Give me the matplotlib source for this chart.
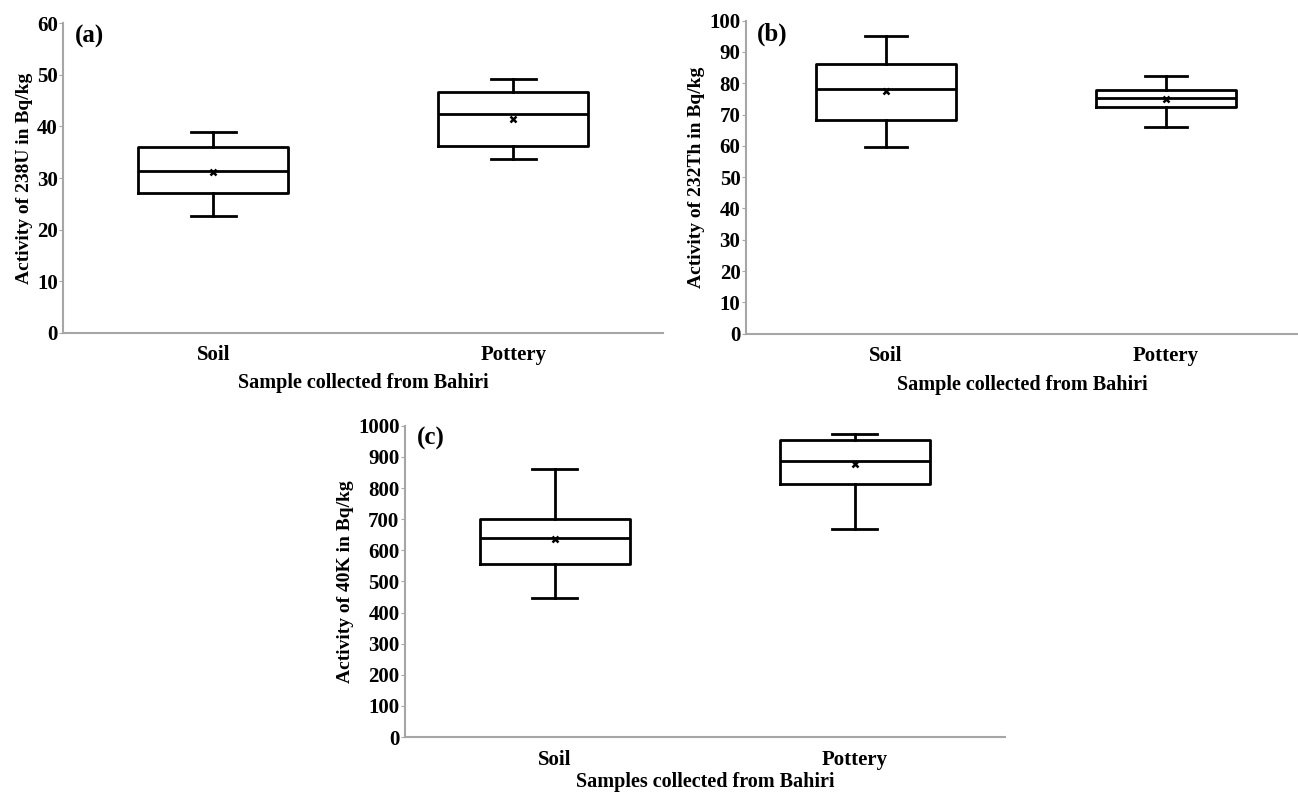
import matplotlib.pyplot as plt

plt.rcParams['font.family'] = ['Liberation Serif', 'DejaVu Serif']
plt.rcParams['font.weight'] = 'bold'

categories = ['Soil', 'Pottery']

# five-number summaries + mean
u238_low = [22.6, 33.6]
u238_q1 = [27.0, 36.2]
u238_med = [31.4, 42.5]
u238_mean = [31.2, 41.4]
u238_q3 = [36.0, 46.6]
u238_high = [38.9, 49.3]

th232_low = [59.7, 66.0]
th232_q1 = [68.2, 72.5]
th232_med = [78.2, 75.3]
th232_mean = [77.4, 75.1]
th232_q3 = [86.3, 78.0]
th232_high = [95.1, 82.3]

k40_low = [448, 667]
k40_q1 = [557, 812]
k40_med = [640, 886]
k40_mean = [637, 876]
k40_q3 = [699, 955]
k40_high = [861, 973]

GREY = '#a6a6a6'


def stats(low, q1, med, mean, q3, high):
    out = []
    for i in range(len(categories)):
        out.append(dict(whislo=low[i], q1=q1[i], med=med[i], mean=mean[i],
                        q3=q3[i], whishi=high[i], fliers=[], label=categories[i]))
    return out


def panel(ax, st, ymax, ystep, ylabel, xlabel, tag, xmax=2.0, xpad=6):
    ax.bxp(st, positions=[0.5, 1.5], widths=0.5, capwidths=0.15,
           showmeans=True, showfliers=False,
           boxprops=dict(color='black', linewidth=2),
           medianprops=dict(color='black', linewidth=2),
           whiskerprops=dict(color='black', linewidth=2),
           capprops=dict(color='black', linewidth=2),
           meanprops=dict(marker='x', markeredgecolor='black', markersize=5,
                          markeredgewidth=1.8))
    ax.set_xlim(0, xmax)
    ax.set_ylim(0, ymax)
    ax.set_yticks(range(0, ymax + 1, ystep))
    for s in ['top', 'right']:
        ax.spines[s].set_visible(False)
    for s in ['left', 'bottom']:
        ax.spines[s].set_color(GREY)
        ax.spines[s].set_linewidth(1.5)
    ax.tick_params(axis='y', length=3, color=GREY, pad=1, labelsize=15)
    ax.tick_params(axis='x', length=0, pad=9, labelsize=15)
    ax.set_ylabel(ylabel, fontsize=14, fontweight='bold', labelpad=3)
    ax.set_xlabel(xlabel, fontsize=14.5, fontweight='bold', labelpad=xpad)
    ax.text(0.02, 0.995, tag, transform=ax.transAxes, fontsize=18,
            fontweight='bold', va='top', ha='left')


fig = plt.figure(figsize=(12.98, 7.92), dpi=100)

ax_a = fig.add_axes([0.0488, 0.58, 0.4622, 0.3905])
panel(ax_a, stats(u238_low, u238_q1, u238_med, u238_mean, u238_q3, u238_high),
      60, 10, 'Activity of 238U in Bq/kg', 'Sample collected from Bahiri', '(a)')

ax_b = fig.add_axes([0.5747, 0.5787, 0.4253, 0.3952])
panel(ax_b, stats(th232_low, th232_q1, th232_med, th232_mean, th232_q3, th232_high),
      100, 10, 'Activity of 232Th in Bq/kg', 'Sample collected from Bahiri', '(b)',
      xmax=1.971)

ax_c = fig.add_axes([0.312, 0.0694, 0.4622, 0.393])
panel(ax_c, stats(k40_low, k40_q1, k40_med, k40_mean, k40_q3, k40_high),
      1000, 100, 'Activity of 40K in Bq/kg', 'Samples collected from Bahiri', '(c)',
      xpad=1.5)

fig.savefig('out.png', dpi=100)
